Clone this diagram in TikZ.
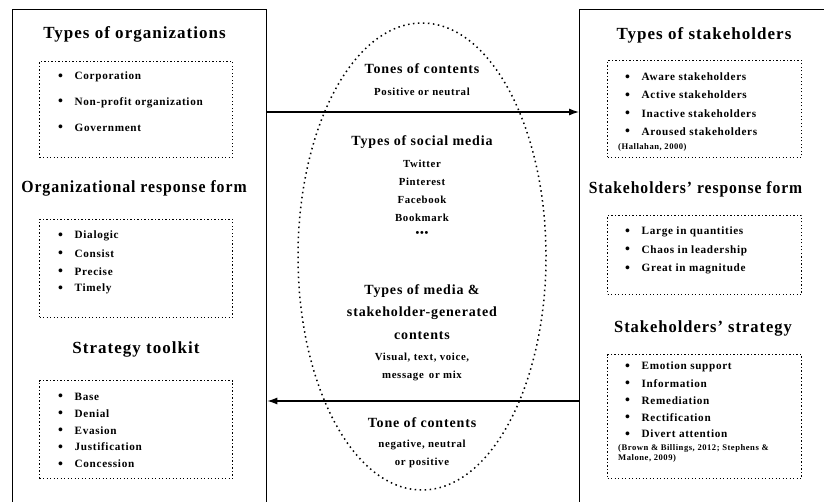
\documentclass[tikz,border=0pt]{standalone}
\usepackage{fontspec}
\setmainfont{Liberation Serif}[LetterSpace=6]
\usetikzlibrary{arrows.meta,shapes.geometric}
\tikzset{
  panel/.style={draw, line width=1.3pt, rectangle, anchor=north west, inner sep=0pt},
  dotbox/.style={draw, line width=1pt, dash pattern=on 1.3pt off 2.2pt, rectangle, anchor=north west, inner sep=0pt},
  oval/.style={draw, ellipse, line width=1.5pt, dash pattern=on 1.5pt off 3.5pt, inner sep=0pt},
  title/.style={font=\bfseries\fontsize{17}{18}\selectfont, inner sep=0pt},
  ctitle/.style={font=\bfseries\fontsize{14}{16}\selectfont, inner sep=0pt},
  ctext/.style={font=\bfseries\fontsize{10.8}{12}\selectfont, inner sep=0pt},
  item/.style={font=\bfseries\fontsize{11.2}{12}\selectfont, anchor=west, inner sep=0pt},
  cite/.style={font=\bfseries\fontsize{8.6}{10}\selectfont, anchor=west, inner sep=0pt, align=left},
  arr/.style={line width=1.2pt, -{Latex[length=10pt,width=7pt]}},
}
\newcommand{\bul}[1]{\makebox[16.5pt][l]{\raisebox{-0.4pt}{\scalebox{1.25}{\textbullet}}}#1}
\begin{document}
\begin{tikzpicture}[x=1pt,y=-1pt]
\clip (0,0) rectangle (824,502);
% panels
\node[panel, minimum width=254pt, minimum height=510pt] (leftpanel) at (12,9) {};
\node[panel, minimum width=260pt, minimum height=510pt] (rightpanel) at (579,9) {};
% ellipse
\node[oval, minimum width=248pt, minimum height=467pt] (mid) at (422,256.5) {};
% left side
\node[title] (tOrg) at (134.5,34) {Types of organizations};
\node[dotbox, minimum width=193pt, minimum height=96pt] (bOrg) at (39,61) {};
\foreach \t [count=\i] in {Corporation, Non-profit organization, Government}
  \node[item] (org\i) at (58,{77+25.5*(\i-1)}) {\bul{\t}};
\node[title] (tResp) at (134,188) {\scalebox{0.93}[1]{Organizational response form}};
\node[dotbox, minimum width=193pt, minimum height=98pt] (bResp) at (39,219) {};
\foreach \t [count=\i] in {Dialogic, Consist, Precise, Timely}
  \node[item] (resp\i) at (58,{236+17.7*(\i-1)}) {\bul{\t}};
\node[title] (tTool) at (136,349) {Strategy toolkit};
\node[dotbox, minimum width=193pt, minimum height=98pt] (bTool) at (39,380) {};
\foreach \t [count=\i] in {Base, Denial, Evasion, Justification, Concession}
  \node[item] (tool\i) at (58,{397+16.75*(\i-1)}) {\bul{\t}};
% right side
\node[title] (tStk) at (704,35) {Types of stakeholders};
\node[dotbox, minimum width=194pt, minimum height=97pt] (bStk) at (607,60) {};
\foreach \t [count=\i] in {Aware stakeholders, Active stakeholders, Inactive stakeholders, Aroused stakeholders}
  \node[item] (stk\i) at (625,{77+18.3*(\i-1)}) {\bul{\t}};
\node[cite] (cStk) at (618,147) {(Hallahan, 2000)};
\node[title] (tSResp) at (695.5,189) {\scalebox{0.92}[1]{Stakeholders’ response form}};
\node[dotbox, minimum width=194pt, minimum height=79pt] (bSResp) at (607,215) {};
\foreach \t [count=\i] in {Large in quantities, Chaos in leadership, Great in magnitude}
  \node[item] (sresp\i) at (625,{232+18.5*(\i-1)}) {\bul{\t}};
\node[title] (tStrat) at (703,328) {\scalebox{0.97}[1]{Stakeholders’ strategy}};
\node[dotbox, minimum width=194pt, minimum height=124pt] (bStrat) at (607,354) {};
\foreach \t [count=\i] in {Emotion support, Information, Remediation, Rectification, Divert attention}
  \node[item] (strat\i) at (625,{367+16.8*(\i-1)}) {\bul{\t}};
\node[cite, anchor=north west] (cStrat) at (618,444) {(Brown \& Billings, 2012; Stephens \&\\Malone, 2009)};
% centre texts
\node[ctitle] (cTone) at (422,69) {Tones of contents};
\node[ctext] (cPos) at (422,92) {Positive or neutral};
\node[ctitle] (cSoc) at (422,142) {Types of social media};
\foreach \t/\y [count=\i] in {Twitter/164, Pinterest/182, Facebook/200, Bookmark/218, •••/234}
  \node[ctext] (soc\i) at (422,\y) {\t};
\node[ctitle] (cMed1) at (422,291) {Types of media \&};
\node[ctitle] (cMed2) at (422,313) {stakeholder-generated};
\node[ctitle] (cMed3) at (422,336) {contents};
\node[ctext] (cVis1) at (422,358) {Visual, text, voice,};
\node[ctext] (cVis2) at (422,376) {message\, or mix};
\node[ctitle] (cTone2) at (422,423) {Tone of contents};
\node[ctext] (cNeg1) at (422,445) {negative, neutral};
\node[ctext] (cNeg2) at (422,463) {or positive};
% arrows
\coordinate (arrTop) at (0,112);
\coordinate (arrBot) at (0,401);
\draw[arr] (leftpanel.east |- arrTop) -- (rightpanel.west |- arrTop);
\draw[arr] (rightpanel.west |- arrBot) -- (leftpanel.east |- arrBot);
\end{tikzpicture}
\end{document}
